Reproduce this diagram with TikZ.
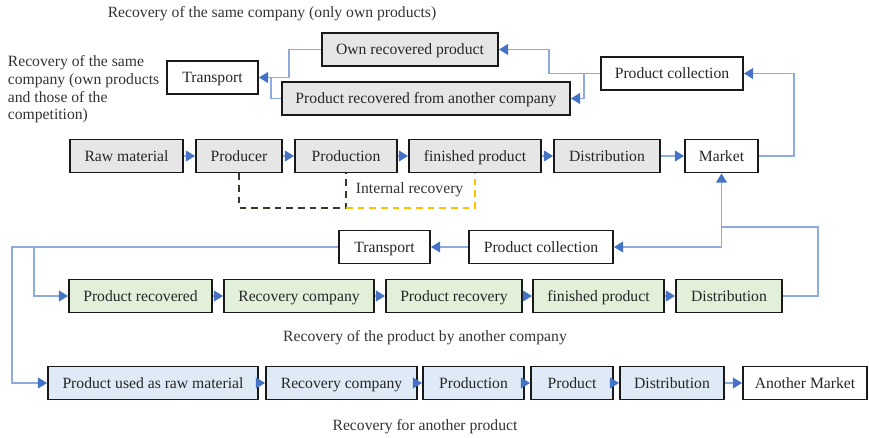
\documentclass[tikz,border=0pt]{standalone}
\usepackage{fontspec}
\setmainfont{Liberation Serif}
\usetikzlibrary{arrows.meta}

\definecolor{boxgrey}{HTML}{E7E6E6}
\definecolor{boxgreen}{HTML}{E2EFD9}
\definecolor{boxblue}{HTML}{DEEAF6}
\definecolor{linkblue}{HTML}{8FAADC}
\definecolor{tipblue}{HTML}{4472C4}
\definecolor{darkdash}{HTML}{3A382A}
\definecolor{yellowdash}{HTML}{FFC000}

\tikzset{
  stage/.style={draw=black!90, line width=1.15pt, minimum height=19.8pt, inner sep=1pt,
    text height=7.4pt, text depth=1.2pt,
    font=\fontsize{9.4}{11}\selectfont, text=black!85},
  greystage/.style={stage, fill=boxgrey},
  greenstage/.style={stage, fill=boxgreen},
  bluestage/.style={stage, fill=boxblue},
  plainstage/.style={stage, fill=white},
  link/.style={draw=linkblue, line width=0.9pt},
  flow/.style={link, -{Triangle[length=5.5pt,width=6.5pt,color=tipblue]}},
  caption/.style={font=\fontsize{9.4}{10.6}\selectfont, text=black!80},
}

\begin{document}
\begin{tikzpicture}[x=0.6pt, y=-0.6pt]
\useasboundingbox (0,0) rectangle (869,438);

% captions
\node[caption] (titleown) at (272,14) {Recovery of the same company (only own products)};
\node[caption, anchor=north west, align=left] (titlemixed) at (2,50)
  {Recovery of the same\\company (own products\\and those of the\\competition)};
\node[caption] (titleother) at (425,338) {Recovery of the product by another company};
\node[caption] (titlenew) at (425,427) {Recovery for another product};

% return loop of the same company
\node[plainstage, minimum width=54.6pt] (transport) at (212.5,77.5) {Transport};
\node[greystage, minimum width=105.6pt] (own) at (410,49.5) {Own recovered product};
\node[greystage, minimum width=172.8pt] (fromother) at (426,98.5) {Product recovered from another company};
\node[plainstage, minimum width=85.2pt] (collect) at (672,73.5) {Product collection};

% main chain
\node[greystage, minimum width=67.8pt] (raw) at (126.5,156) {Raw material};
\node[greystage, minimum width=51.6pt] (producer) at (239,156) {Producer};
\node[greystage, minimum width=61.2pt] (production) at (346,156) {Production};
\node[greystage, minimum width=79.2pt] (finished) at (475,156) {finished product};
\node[greystage, minimum width=63.6pt] (distrib) at (607,156) {Distribution};
\node[plainstage, minimum width=43.8pt] (market) at (721.5,156) {Market};

% recovery by another company
\node[plainstage, minimum width=54.6pt] (transporttwo) at (384.5,247) {Transport};
\node[plainstage, minimum width=86.4pt] (collecttwo) at (541,247) {Product collection};
\node[greenstage, minimum width=85.8pt] (recovered) at (140.5,296) {Product recovered};
\node[greenstage, minimum width=90pt] (reccomp) at (299,296) {Recovery company};
\node[greenstage, minimum width=81.6pt] (recovery) at (454,296) {Product recovery};
\node[greenstage, minimum width=78.6pt] (finishedtwo) at (598.5,296) {finished product};
\node[greenstage, minimum width=63.6pt] (distribtwo) at (729,296) {Distribution};

% recovery for another product
\node[bluestage, minimum width=126pt] (asraw) at (153,383) {Product used as raw material};
\node[bluestage, minimum width=90.6pt] (reccompthree) at (341.5,383) {Recovery company};
\node[bluestage, minimum width=60.6pt] (productionthree) at (473.5,383) {Production};
\node[bluestage, minimum width=49.2pt] (product) at (572,383) {Product};
\node[bluestage, minimum width=62.4pt] (distribthree) at (672,383) {Distribution};
\node[plainstage, minimum width=74.4pt] (anothermarket) at (805,383) {Another Market};

% chains
\draw[flow] (raw) -- (producer);
\draw[flow] (producer) -- (production);
\draw[flow] (production) -- (finished);
\draw[flow] (finished) -- (distrib);
\draw[flow] (distrib) -- (market);

\draw[flow] (recovered) -- (reccomp);
\draw[flow] (reccomp) -- (recovery);
\draw[flow] (recovery) -- (finishedtwo);
\draw[flow] (finishedtwo) -- (distribtwo);

\draw[flow] (asraw) -- (reccompthree);
\draw[flow] (reccompthree) -- (productionthree);
\draw[flow] (productionthree) -- (product);
\draw[flow] (product) -- (distribthree);
\draw[flow] (distribthree) -- (anothermarket);

% same company loop
\draw[flow] (market.east) -- ++(35,0) |- (collect.east);
\draw[flow] (collect.west) -- ++(-51,0) |- (own.east);
\draw[flow] (collect.west) ++(-16,0) |- (fromother.east);
\draw[link] (fromother.west) -- ++(-10,0) |- (transport.east);
\draw[flow] (own.west) -- ++(-32,0) |- (transport.east);

% internal recovery
\draw[darkdash, dashed, line width=0.9pt, dash pattern=on 4pt off 3pt] (producer.south) -- ++(0,34.5) -| (production.south);
\draw[yellowdash, dashed, line width=0.9pt, dash pattern=on 4pt off 3pt] (production.south) ++(0,34.5) -| (finished.south);
\node[caption, anchor=west] (internal) at (350,190) {Internal recovery};

% another company loop
\path (market.south) ++(0,53.5) coordinate (mjoin);
\draw[link] (distribtwo.east) -- ++(35,0) |- (mjoin);
\draw[flow] (mjoin) -- (market.south);
\draw[flow] (mjoin) |- (collecttwo.east);
\draw[flow] (collecttwo) -- (transporttwo);
\draw[flow] (transporttwo.west) ++(-304,0) |- (recovered.west);
\draw[flow] (transporttwo.west) -- ++(-326,0) |- (asraw.west);
\end{tikzpicture}
\end{document}
